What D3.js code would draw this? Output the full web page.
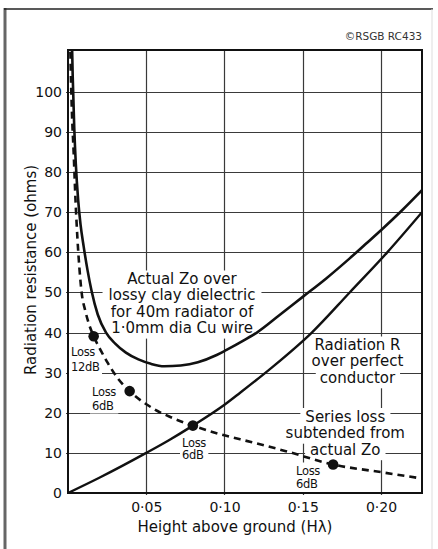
<!DOCTYPE html>
<html>
<head>
<meta charset="utf-8">
<script src="https://cdn.jsdelivr.net/npm/d3@7"></script>
<style>
  html, body { margin: 0; padding: 0; background: #fff; }
  svg { display: block; }
  text { font-family: "DejaVu Sans", sans-serif; fill: #111; }
</style>
</head>
<body>
<script>
// ---------------- data ----------------
const xTicks = [0.05, 0.10, 0.15, 0.20];
const xTickLabels = ["0·05", "0·10", "0·15", "0·20"];
const yTicks = [0, 10, 20, 30, 40, 50, 60, 70, 80, 90, 100];

// Actual Zo over lossy clay dielectric
const zoX = [0.0024,0.0030,0.0040,0.0050,0.0065,0.0080,0.0100,0.0125,0.0150,0.0190,0.0243,0.0300,0.0370,0.0450,0.0530,0.0615,0.0720,0.0830,0.0950,0.1010,0.1126,0.1207,0.1350,0.1500,0.1650,0.1800,0.1900,0.2000,0.2130,0.2262];
const zoY = [115,104,91,82,73,67,61.5,55.5,50.5,44.5,40,37.3,35,33.3,32.2,31.6,31.8,32.6,34.4,35.6,38.1,40,44.3,48.9,53.5,58.5,62,65.5,70.3,75.5];

// Radiation R over perfect conductor
const rX = [0, 0.02, 0.05, 0.0642, 0.0798, 0.1000, 0.1100, 0.1300, 0.1558, 0.1800, 0.2040, 0.2262];
const rY = [0, 3.8, 10, 13.1, 16.8, 22, 25, 31.2, 40, 50, 60, 70];

// Series loss subtended from actual Zo (dashed)
const lossX = [0.0010,0.0015,0.0025,0.0036,0.0048,0.0061,0.0073,0.0087,0.0110,0.0135,0.0164,0.0210,0.0253,0.0320,0.0394,0.0547,0.0650,0.0798,0.0960,0.1100,0.1386,0.1694,0.2000,0.2262];
const lossY = [122,110.4,95,85,73,63,56,50,45.5,42,39.1,35.5,32.5,28.5,25.4,21,19,16.8,14.8,13.4,10.5,7.1,5.2,3.6];

// Loss markers
const dotX = [0.0164, 0.0394, 0.0798, 0.1694];
const dotY = [39.1, 25.4, 16.8, 7.1];
const dotLabels = [["Loss", "12dB"], ["Loss", "6dB"], ["Loss", "6dB"], ["Loss", "6dB"]];

const labelZo = ["Actual Zo over", "lossy clay dielectric", "for 40m radiator of", "1·0mm dia Cu wire"];
const labelR = ["Radiation R", "over perfect", "conductor"];
const labelLoss = ["Series loss", "subtended from", "actual Zo"];

// ---------------- layout ----------------
const W = 438, H = 549;
const L = 68, R = 422, T = 50, B = 493;

const svg = d3.select("body").append("svg").attr("width", W).attr("height", H);

const x = d3.scaleLinear().domain([0, 0.2262]).range([L, R]);
const y = d3.scaleLinear().domain([0, 110.45]).range([B, T]);
const px = v => Math.round(v) + 0.5;

// outer frame
svg.append("line").attr("x1", 5).attr("x2", 5).attr("y1", 8).attr("y2", H)
  .attr("stroke", "#666").attr("stroke-width", 3);
svg.append("line").attr("x1", 4).attr("x2", 433).attr("y1", 9).attr("y2", 9)
  .attr("stroke", "#222").attr("stroke-width", 1.5);
svg.append("line").attr("x1", 432).attr("x2", 432).attr("y1", 9).attr("y2", H)
  .attr("stroke", "#ddd").attr("stroke-width", 1);

// copyright
svg.append("text").attr("x", R).attr("y", 40).attr("text-anchor", "end")
  .style("font-size", "10.5px").style("fill", "#333").text("©RSGB RC433");

// grid
const grid = svg.append("g");
grid.selectAll("line.h").data(yTicks.filter(d => d > 0)).join("line")
  .attr("x1", L - 2).attr("x2", R).attr("y1", d => px(y(d))).attr("y2", d => px(y(d)))
  .attr("stroke", "#3a3a3a").attr("stroke-width", 1.2);
grid.selectAll("line.v").data(xTicks).join("line")
  .attr("x1", d => px(x(d))).attr("x2", d => px(x(d))).attr("y1", T).attr("y2", B + 2)
  .attr("stroke", "#3a3a3a").attr("stroke-width", 1.2);

// axes tick labels via d3 axes
const yAxis = d3.axisLeft(y).tickValues(yTicks).tickSize(0).tickPadding(6).tickFormat(d3.format("d"));
const gy = svg.append("g").attr("transform", `translate(${L},0)`).call(yAxis);
gy.select(".domain").remove();
gy.selectAll("text").style("font-size", "14px").style("font-family", "DejaVu Sans").attr("fill", "#111");

const xAxis = d3.axisBottom(x).tickValues(xTicks).tickSize(0).tickPadding(9)
  .tickFormat((d, i) => xTickLabels[i]);
const gx = svg.append("g").attr("transform", `translate(0,${B})`).call(xAxis);
gx.select(".domain").remove();
gx.selectAll("text").style("font-size", "14px").style("font-family", "DejaVu Sans").attr("fill", "#111");

// axis titles
svg.append("text").attr("transform", `translate(36,270) rotate(-90)`).attr("text-anchor", "middle")
  .style("font-size", "15px").text("Radiation resistance (ohms)");
svg.append("text").attr("x", 235).attr("y", 532).attr("text-anchor", "middle")
  .style("font-size", "15px").text("Height above ground (Hλ)");

// label layers
const bgLayer = svg.append("g");
const curveLayer = svg.append("g");
const textLayer = svg.append("g");

function blockLabel(lines, cx, baseY, step, size, padX) {
  lines.forEach((s, i) => {
    const t = textLayer.append("text").attr("x", cx).attr("y", baseY + i * step)
      .attr("text-anchor", "middle").style("font-size", size + "px").text(s);
    const bb = t.node().getBBox();
    bgLayer.append("rect").attr("x", bb.x - padX).attr("width", bb.width + 2 * padX)
      .attr("y", baseY + i * step - size * 0.9).attr("height", size * 1.28)
      .attr("fill", "#fff");
  });
}
blockLabel(labelZo, 182, 284, 16.3, 15, 6);
blockLabel(labelR, 357.5, 350, 16.3, 15, 4);
blockLabel(labelLoss, 345.3, 421.5, 16.5, 15, 5);

// small loss labels
const smallPos = [[71, 356, 15], [92, 396, 13.5], [182, 446.5, 12.5], [296, 474.5, 13.5]];
dotLabels.forEach((lines, i) => {
  const [lx, ly, st] = smallPos[i];
  const g = textLayer.append("g");
  lines.forEach((s, j) => {
    g.append("text").attr("x", lx).attr("y", ly + j * st)
      .style("font-size", "11.5px").style("letter-spacing", "-0.3px").text(s);
  });
  const bb = g.node().getBBox();
  bgLayer.append("rect").attr("x", bb.x - 2).attr("y", bb.y - 1)
    .attr("width", bb.width + 4).attr("height", bb.height + 2).attr("fill", "#fff");
});

// clip
svg.append("clipPath").attr("id", "clip").append("rect")
  .attr("x", L).attr("y", T).attr("width", R - L).attr("height", B - T);

const line = d3.line().x(d => x(d[0])).y(d => y(d[1])).curve(d3.curveMonotoneX);
const cg = curveLayer.append("g").attr("clip-path", "url(#clip)");

cg.append("path").datum(d3.zip(zoX, zoY)).attr("d", line)
  .attr("fill", "none").attr("stroke", "#111").attr("stroke-width", 2.6);
cg.append("path").datum(d3.zip(rX, rY)).attr("d", line)
  .attr("fill", "none").attr("stroke", "#111").attr("stroke-width", 2.4);
cg.append("path").datum(d3.zip(lossX, lossY)).attr("d", line)
  .attr("fill", "none").attr("stroke", "#111").attr("stroke-width", 2.6)
  .attr("stroke-dasharray", "7,5");

curveLayer.selectAll("circle").data(d3.zip(dotX, dotY)).join("circle")
  .attr("cx", d => x(d[0])).attr("cy", d => y(d[1])).attr("r", 5.3).attr("fill", "#111");

// plot frame
svg.append("rect").attr("x", L).attr("y", T).attr("width", R - L).attr("height", B - T)
  .attr("fill", "none").attr("stroke", "#111").attr("stroke-width", 2);
</script>
</body>
</html>
